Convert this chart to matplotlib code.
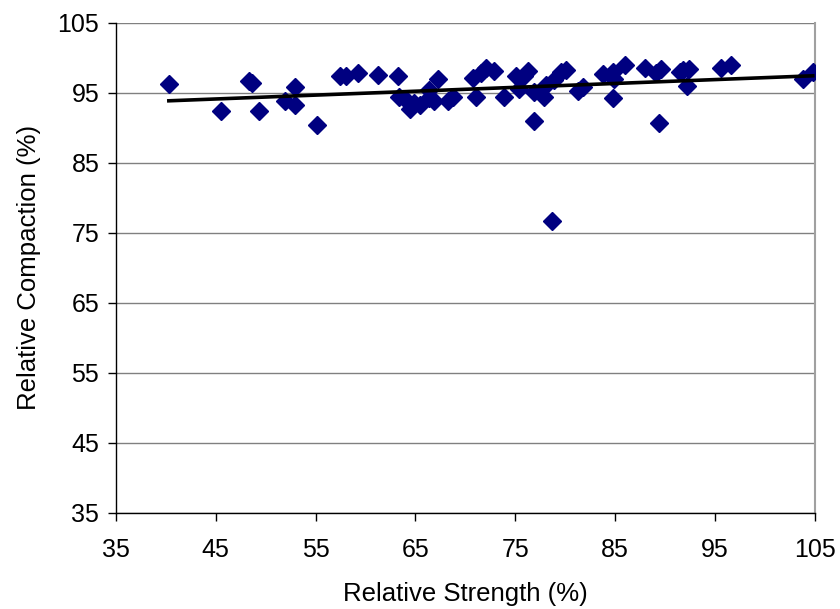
import numpy as np
import matplotlib
matplotlib.use("Agg")
import matplotlib.pyplot as plt

plt.rcParams['font.family'] = ['Liberation Sans', 'DejaVu Sans']

relative_strength = [
    40.3, 45.5, 48.3, 48.6, 49.3, 51.9, 52.9, 52.9, 55.1, 57.4,
    58.0, 59.2, 61.2, 63.3, 63.4, 64.1, 64.5, 64.9, 65.5, 66.4,
    66.4, 66.9, 67.3, 68.3, 68.8, 70.8, 71.6, 72.1, 71.1, 72.9,
    73.9, 75.1, 75.4, 75.9, 76.3, 76.9, 76.9, 77.9, 78.1, 78.9,
    78.7, 79.6, 80.1, 81.3, 81.8, 83.8, 84.8, 84.9, 84.8, 86.0,
    88.0, 89.1, 89.6, 89.4, 91.5, 91.8, 92.4, 92.2, 95.6, 96.6,
    103.8, 104.8,
]
relative_compaction = [
    96.2, 92.4, 96.7, 96.4, 92.4, 93.8, 95.8, 93.2, 90.4, 97.3,
    97.3, 97.8, 97.5, 97.3, 94.4, 93.9, 92.6, 93.5, 93.2, 95.4,
    94.2, 93.8, 97.0, 93.8, 94.4, 97.1, 97.8, 98.5, 94.3, 98.1,
    94.4, 97.3, 95.5, 97.3, 98.1, 95.1, 91.0, 94.4, 96.1, 96.8,
    76.7, 98.0, 98.2, 95.2, 95.8, 97.7, 97.9, 97.0, 94.2, 99.0,
    98.5, 97.8, 98.4, 90.7, 98.0, 98.2, 98.4, 96.0, 98.5, 98.9,
    96.9, 97.9,
]
ticks = [35, 45, 55, 65, 75, 85, 95, 105]

x = np.array(relative_strength)
y = np.array(relative_compaction)

fig = plt.figure(figsize=(8.4, 6.09), dpi=100)
ax = fig.add_axes([0.138, 0.158, 0.832, 0.805])

ax.set_xlim(35, 105)
ax.set_ylim(35, 105)
ax.set_xticks(ticks)
ax.set_yticks(ticks)

ax.grid(axis='y', color='#808080', linewidth=1.0)
ax.set_axisbelow(True)

ax.plot(x, y, linestyle='none', marker='D', markersize=9.5,
        color='#000080', markeredgecolor='#000080', zorder=3)

slope, intercept = np.polyfit(x, y, 1)
xs = np.array([x.min(), x.max()])
ax.plot(xs, slope * xs + intercept, color='black', linewidth=2.6, zorder=4)

for s in ['left', 'bottom']:
    ax.spines[s].set_color('#000000')
    ax.spines[s].set_linewidth(1.0)
ax.spines['right'].set_color('#a0a0a0')
ax.spines['right'].set_linewidth(1.5)
ax.spines['top'].set_visible(False)

ax.tick_params(axis='both', labelsize=18, length=6, width=1, color='black', direction='out')
ax.tick_params(axis='x', pad=12)
ax.tick_params(axis='y', pad=6)

ax.set_xlabel('Relative Strength (%)', fontsize=18.5, labelpad=14.5)
ax.set_ylabel('Relative Compaction (%)', fontsize=18.5, labelpad=12)

fig.savefig('out.png', dpi=100, facecolor='white')
